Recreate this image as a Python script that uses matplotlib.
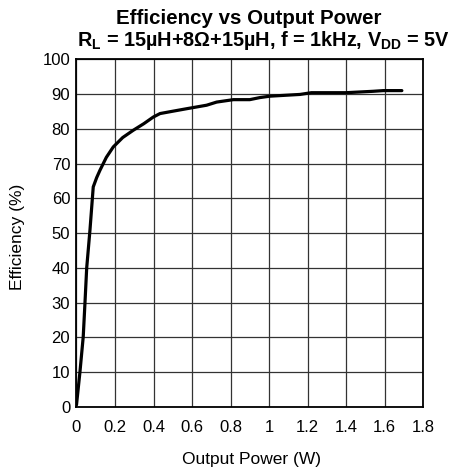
import matplotlib
matplotlib.use("Agg")
import matplotlib.pyplot as plt

plt.rcParams['font.family'] = ['Liberation Sans', 'DejaVu Sans']

power_w = [0.0, 0.018, 0.035, 0.044, 0.053, 0.070, 0.087, 0.105, 0.122, 0.155, 0.191, 0.240, 0.295,
           0.350, 0.399, 0.434, 0.503, 0.573, 0.676, 0.728, 0.815, 0.900, 0.953, 1.005,
           1.161, 1.220, 1.400, 1.540, 1.594, 1.690]
efficiency = [0.6, 10.1, 20.2, 29.9, 40.0, 50.9, 63.3, 66.0, 68.1, 71.8, 74.8, 77.5, 79.6,
              81.5, 83.4, 84.4, 85.1, 85.8, 86.8, 87.7, 88.4, 88.4, 89.0, 89.4,
              89.9, 90.4, 90.4, 90.8, 91.0, 91.0]

x_ticks = [0, 0.2, 0.4, 0.6, 0.8, 1.0, 1.2, 1.4, 1.6, 1.8]
x_tick_labels = ['0', '0.2', '0.4', '0.6', '0.8', '1', '1.2', '1.4', '1.6', '1.8']
y_ticks = [0, 10, 20, 30, 40, 50, 60, 70, 80, 90, 100]

fig = plt.figure(figsize=(4.51, 4.73), dpi=100)
ax = fig.add_axes([0.1696, 0.1395, 0.7684, 0.7351])
ax.plot(power_w, efficiency, color='black', linewidth=2.3, solid_capstyle='round')
ax.set_xlim(0, 1.8)
ax.set_ylim(0, 100)
ax.set_xticks(x_ticks)
ax.set_xticklabels(x_tick_labels)
ax.set_yticks(y_ticks)
ax.tick_params(length=0, labelsize=12)
ax.tick_params(axis='x', pad=9)
ax.tick_params(axis='y', pad=4.5)
ax.grid(True, color='#333333', linewidth=0.9)
for s in ax.spines.values():
    s.set_linewidth(1.3)
ax.set_xlabel('Output Power (W)', fontsize=12.5, va='center')
ax.xaxis.set_label_coords(0.506, -0.152)
ax.set_ylabel('Efficiency (%)', fontsize=12.5, va='center')
ax.yaxis.set_label_coords(-0.169, 0.49)
fig.text(248.5 / 451, 1 - 24.5 / 473, 'Efficiency vs Output Power',
         ha='center', va='baseline', fontsize=14.8, fontweight='bold')
fig.text(263 / 451, 1 - 46 / 473,
         r'R$_\mathregular{L}$ = 15µH+8Ω+15µH, f = 1kHz, V$_\mathregular{DD}$ = 5V',
         ha='center', va='baseline', fontsize=14.3, fontweight='bold')
fig.savefig('out.png', dpi=100)
